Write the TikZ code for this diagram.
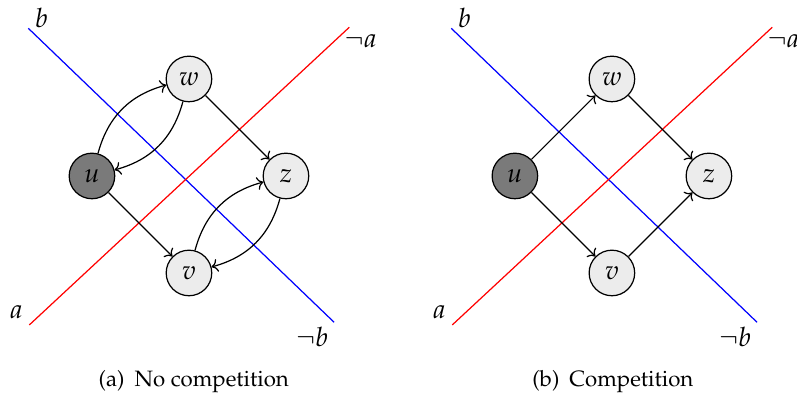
\documentclass[tikz,border=0pt]{standalone}
\usepackage[T1]{fontenc}
\usepackage{mathpazo}
\usepackage{tikz}
\usetikzlibrary{arrows.meta,calc}
\tikzset{
  state/.style={circle,draw,fill=gray!15,minimum size=20.5pt,inner sep=0pt,font=\large},
  source/.style={state,fill=black!52},
  side/.style={font=\large},
  edge/.style={->},
}

\begin{document}
\begin{tikzpicture}[x=43.65pt,y=43.65pt,line width=0.55pt]
  \useasboundingbox (-0.948,-2.299) rectangle (7.268,1.814);
  % (a) no competition
  \draw[blue] (-0.656,1.522) -- (2.496,-1.508);
  \draw[red] (-0.646,-1.536) -- (2.653,1.533);
  \node[side] (lba) at (-0.52,1.63) {$b$};
  \node[side] (lnba) at (2.27,-1.66) {$\neg b$};
  \node[side] (laa) at (-0.78,-1.40) {$a$};
  \node[side] (lnaa) at (2.77,1.385) {$\neg a$};
  \node[source] (ua) at (0,0) {$u$};
  \node[state] (wa) at (1,1) {$w$};
  \node[state] (za) at (2,0) {$z$};
  \node[state] (va) at (1,-1) {$v$};
  \draw[edge] (ua) to[bend left] (wa);
  \draw[edge] (wa) to[bend left] (ua);
  \draw[edge] (va) to[bend left] (za);
  \draw[edge] (za) to[bend left] (va);
  \draw[edge] (wa) -- (za);
  \draw[edge] (ua) -- (va);
  \node (capa) at (1.05,-2.124) {(a)\hspace{4.5pt}No competition};
  % (b) competition
  \draw[blue] (3.704,1.522) -- (6.856,-1.508);
  \draw[red] (3.714,-1.536) -- (7.013,1.533);
  \node[side] (lbb) at (3.84,1.63) {$b$};
  \node[side] (lnbb) at (6.63,-1.66) {$\neg b$};
  \node[side] (lab) at (3.58,-1.40) {$a$};
  \node[side] (lnab) at (7.13,1.385) {$\neg a$};
  \node[source] (ub) at (4.36,0) {$u$};
  \node[state] (wb) at (5.36,1) {$w$};
  \node[state] (zb) at (6.36,0) {$z$};
  \node[state] (vb) at (5.36,-1) {$v$};
  \draw[edge] (ub) -- (wb);
  \draw[edge] (wb) -- (zb);
  \draw[edge] (ub) -- (vb);
  \draw[edge] (vb) -- (zb);
  \node (capb) at (5.37,-2.124) {(b)\hspace{4.5pt}Competition};
\end{tikzpicture}
\end{document}
